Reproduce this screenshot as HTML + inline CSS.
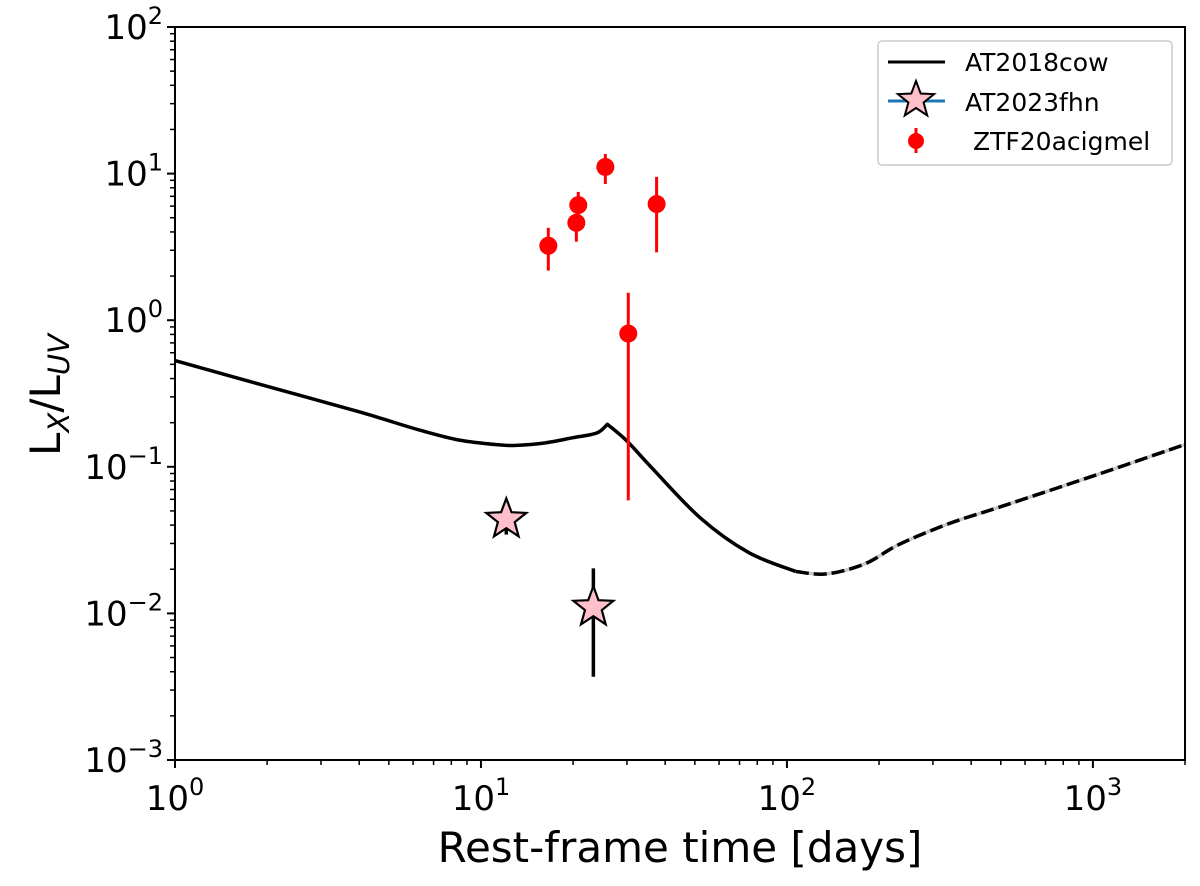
<!DOCTYPE html>
<html><head><meta charset="utf-8"><style>
body{margin:0;background:#fff}
svg{display:block;font-family:"DejaVu Sans","Liberation Sans",sans-serif}
</style></head><body>
<svg id="chart" width="1200" height="886" viewBox="0 0 1200 886">
<g id="plot"></g>
<g id="axes"></g>
<text x="680" y="862" font-size="42" text-anchor="middle">Rest-frame time [days]</text>
<text transform="translate(60,395) rotate(-90)" font-size="42" text-anchor="middle">L<tspan font-size="29" dy="9" font-style="italic">X</tspan><tspan dy="-9">/L</tspan><tspan font-size="29" dy="9" font-style="italic">UV</tspan></text>
<g>
<rect x="878" y="41" width="294" height="124" rx="4" fill="#fff" stroke="#ccc" stroke-width="1.5"/>
<g>
<line x1="888" y1="62" x2="945" y2="62" stroke="#000" stroke-width="3"/>
<text x="965" y="71" font-size="25">AT2018cow</text></g>
<g>
<line x1="888" y1="101" x2="945" y2="101" stroke="#1f77b4" stroke-width="3"/>
<polygon id="legstar" fill="pink" stroke="#000" stroke-width="2"/>
<text x="965" y="111" font-size="25">AT2023fhn</text></g>
<g>
<line x1="916" y1="128" x2="916" y2="153" stroke="red" stroke-width="3"/>
<circle cx="916" cy="141" r="8" fill="red"/>
<text x="973" y="150" font-size="25">ZTF20acigmel</text></g>
</g>
</svg>
<script>
const curveT=[1,2,4,6.3,8.5,11.5,13,16,20,23.9,25.9,30,35.6,52,75,107];
const curveV=[0.53,0.354,0.237,0.178,0.152,0.141,0.14,0.145,0.158,0.17,0.195,0.15,0.102,0.045,0.026,0.0193];
const dashT=[107,135,180,233,340,494,1050,2000];
const dashV=[0.0193,0.0186,0.0218,0.0296,0.0411,0.053,0.0895,0.142];
const ztfT=[16.6,20.5,20.8,25.5,30.3,37.5];
const ztfV=[3.22,4.62,6.1,11.1,0.81,6.2];
const ztfLo=[2.18,3.43,5.0,8.5,0.059,2.9];
const ztfHi=[4.27,5.3,7.5,13.6,1.54,9.5];
const fhnT=[12.1,23.3];
const fhnV=[0.0438,0.011];
const fhnLo=[0.0345,0.0037];
const fhnHi=[0.05,0.0203];
const xTicks=[0,1,2,3];
const yTicks=[-3,-2,-1,0,1,2];

const L=175,R=1185,T=27,B=760,XMIN=0,XMAX=Math.log10(2000),YMIN=-3,YMAX=2;
const sx=t=>L+(Math.log10(t)-XMIN)/(XMAX-XMIN)*(R-L);
const sy=v=>B-(Math.log10(v)-YMIN)/(YMAX-YMIN)*(B-T);
const NS='http://www.w3.org/2000/svg';
const plot=document.getElementById('plot'),axes=document.getElementById('axes');
function mk(tag,attrs,parent){const e=document.createElementNS(NS,tag);for(const k in attrs)e.setAttribute(k,attrs[k]);parent.appendChild(e);return e;}
function starPts(cx,cy,r){let p=[];for(let i=0;i<10;i++){const a=-Math.PI/2+i*Math.PI/5;const rr=i%2?r*0.42:r;p.push((cx+rr*Math.cos(a)).toFixed(1)+','+(cy+rr*Math.sin(a)).toFixed(1));}return p.join(' ');}
function smooth(ts,vs,sharp){
  const p=ts.map((t,i)=>[sx(t),sy(vs[i])]);
  let d='M'+p[0][0]+','+p[0][1];
  for(let i=0;i<p.length-1;i++){
    const p0=p[Math.max(0,i-1)],p1=p[i],p2=p[i+1],p3=p[Math.min(p.length-1,i+2)];
    let a=p0,b=p3;
    if(sharp&&sharp.includes(i))a=p1;
    if(sharp&&sharp.includes(i+1))b=p2;
    const c1=[p1[0]+(p2[0]-a[0])/6,p1[1]+(p2[1]-a[1])/6];
    const c2=[p2[0]-(b[0]-p1[0])/6,p2[1]-(b[1]-p1[1])/6];
    d+=' C'+c1.join(',')+' '+c2.join(',')+' '+p2.join(',');
  }
  return d;
}
document.getElementById('legstar').setAttribute('points',starPts(916,100,19));

const c1=mk('path',{d:smooth(curveT,curveV,[10]),fill:'none',stroke:'#000','stroke-width':3.5,'stroke-linejoin':'round'},plot);


const dd=smooth(dashT,dashV);
const c2=mk('path',{d:dd,fill:'none',stroke:'#c8c8c8','stroke-width':3.5},plot);


const c3=mk('path',{d:dd,fill:'none',stroke:'#000','stroke-width':3.5,'stroke-dasharray':'13 5'},plot);



ztfT.forEach((t,i)=>{
  const g=mk('g',{},plot);
  
  
  mk('line',{x1:sx(t),x2:sx(t),y1:sy(ztfLo[i]),y2:sy(ztfHi[i]),stroke:'red','stroke-width':3},g);
  mk('circle',{cx:sx(t),cy:sy(ztfV[i]),r:9,fill:'red'},g);
});
fhnT.forEach((t,i)=>{
  const g=mk('g',{},plot);
  
  
  mk('line',{x1:sx(t),x2:sx(t),y1:sy(fhnLo[i]),y2:sy(fhnHi[i]),stroke:'#000','stroke-width':3.5},g);
  mk('polygon',{points:starPts(sx(t),sy(fhnV[i]),21),fill:'pink',stroke:'#000','stroke-width':2.2},g);
});

const fr=mk('rect',{x:L,y:T,width:R-L,height:B-T,fill:'none',stroke:'#000','stroke-width':2},axes);


xTicks.forEach(d=>{
  const x=sx(Math.pow(10,d));
  mk('line',{x1:x,x2:x,y1:B,y2:B+8,stroke:'#000','stroke-width':2},axes);
  const tx=mk('text',{x:x,y:B+50,'font-size':34,'text-anchor':'middle'},axes);
  
  
  tx.innerHTML='10<tspan font-size="24" dy="-15">'+d+'</tspan>';
  for(let m=2;m<10;m++){const v=Math.pow(10,d)*m;if(v>2000)break;const xm=sx(v);mk('line',{x1:xm,x2:xm,y1:B,y2:B+5,stroke:'#000','stroke-width':1.5},axes);}
});
yTicks.forEach(d=>{
  const y=sy(Math.pow(10,d));
  mk('line',{x1:L-8,x2:L,y1:y,y2:y,stroke:'#000','stroke-width':2},axes);
  const tx=mk('text',{x:L-12,y:y+12,'font-size':34,'text-anchor':'end'},axes);
  
  
  tx.innerHTML='10<tspan font-size="24" dy="-15">'+(d<0?'\u2212'+(-d):d)+'</tspan>';
  if(d<2)for(let m=2;m<10;m++){const ym=sy(Math.pow(10,d)*m);mk('line',{x1:L-5,x2:L,y1:ym,y2:ym,stroke:'#000','stroke-width':1.5},axes);}
});
</script>
</body></html>
